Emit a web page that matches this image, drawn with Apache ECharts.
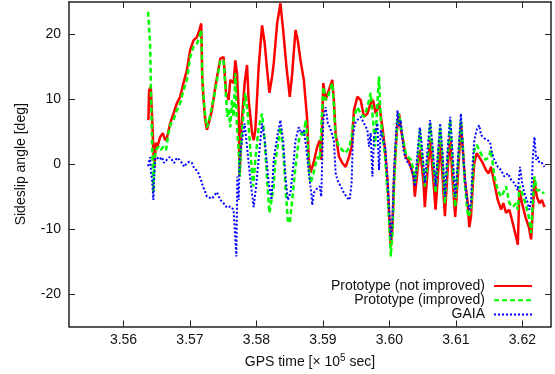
<!DOCTYPE html>
<html>
<head>
<meta charset="utf-8">
<script src="https://cdn.jsdelivr.net/npm/echarts@6/dist/echarts.min.js"></script>
<style>html,body{margin:0;padding:0;background:#fff;}#c{width:555px;height:374px;}</style>
</head>
<body>
<div id="c"></div>
<script>
// GPS time [x 10^5 sec] and sideslip angle [deg]
var redT = [3.56374,3.56385,3.56410,3.56430,3.56449,3.56465,3.56486,3.56510,3.56551,3.56591,3.56626,3.56656,3.56701,3.56751,3.56802,3.56852,3.56902,3.56953,3.57003,3.57053,3.57104,3.57143,3.57169,3.57184,3.57204,3.57229,3.57255,3.57279,3.57330,3.57380,3.57456,3.57505,3.57542,3.57581,3.57606,3.57656,3.57682,3.57707,3.57732,3.57747,3.57772,3.57822,3.57858,3.57882,3.57934,3.57958,3.57983,3.58033,3.58084,3.58124,3.58160,3.58195,3.58235,3.58259,3.58311,3.58360,3.58401,3.58451,3.58501,3.58537,3.58587,3.58621,3.58662,3.58712,3.58738,3.58763,3.58787,3.58813,3.58858,3.58914,3.58953,3.58974,3.59005,3.59039,3.59074,3.59140,3.59164,3.59190,3.59240,3.59291,3.59341,3.59391,3.59431,3.59466,3.59517,3.59567,3.59617,3.59668,3.59718,3.59753,3.59793,3.59843,3.59894,3.59934,3.59970,3.59994,3.60020,3.60045,3.60069,3.60095,3.60121,3.60145,3.60170,3.60211,3.60246,3.60281,3.60321,3.60362,3.60382,3.60422,3.60457,3.60483,3.60513,3.60532,3.60563,3.60612,3.60649,3.60694,3.60724,3.60763,3.60799,3.60834,3.60875,3.60914,3.60950,3.60989,3.61026,3.61075,3.61101,3.61136,3.61176,3.61201,3.61226,3.61252,3.61276,3.61312,3.61351,3.61403,3.61452,3.61493,3.61528,3.61578,3.61629,3.61679,3.61713,3.61754,3.61804,3.61855,3.61905,3.61931,3.61955,3.61995,3.62045,3.62097,3.62131,3.62157,3.62181,3.62217,3.62256,3.62293,3.62332];
var redY = [6.8,11.4,11.9,7.3,2.2,-0.4,3.3,2.7,4.2,4.8,3.7,4.2,6.3,7.8,9.4,10.4,12.5,14.5,17.6,19.1,19.6,20.7,21.7,13.5,9.9,6.8,5.3,5.3,8.3,11.9,16.3,16.5,11.0,9.9,13.0,12.5,16.0,14.0,8.3,-1.9,5.7,12.5,15.3,9.9,4.8,3.7,5.3,15.0,21.4,18.6,14.5,11.0,13.5,15.5,21.7,24.8,20.7,15.0,10.4,14.0,20.7,19.1,16.0,13.0,9.9,6.8,0.7,-1.3,0.2,2.7,3.7,0.7,12.5,9.9,11.0,13.0,9.9,4.8,1.2,0.2,-0.4,1.1,2.7,8.3,10.4,9.9,7.3,7.8,9.4,9.9,7.8,9.4,5.7,2.2,-2.4,-7.5,-12.7,-9.7,-2.4,2.7,6.3,7.8,5.5,3.3,1.1,0.7,-0.4,-1.9,-5.0,-0.9,2.2,0.2,-2.9,-6.6,-2.4,3.7,-0.9,-7.0,-2.4,3.4,-1.9,-8.0,-0.9,4.2,-2.4,-8.1,-2.4,6.3,2.7,-2.4,-6.0,-9.7,-8.1,-3.4,0.2,1.7,1.1,0.2,-0.9,-1.4,-0.4,-2.9,-5.5,-7.0,-6.0,-7.5,-7.0,-9.1,-11.2,-12.4,-4.0,-6.0,-8.1,-9.7,-11.6,-7.0,-2.4,-5.0,-6.0,-5.5,-6.6];

var greenT = [3.56370,3.56389,3.56400,3.56415,3.56430,3.56449,3.56465,3.56490,3.56525,3.56561,3.56600,3.56641,3.56676,3.56712,3.56751,3.56802,3.56852,3.56902,3.56953,3.57003,3.57053,3.57104,3.57143,3.57169,3.57184,3.57204,3.57229,3.57255,3.57279,3.57330,3.57380,3.57456,3.57505,3.57542,3.57561,3.57581,3.57606,3.57632,3.57656,3.57682,3.57707,3.57732,3.57747,3.57772,3.57807,3.57833,3.57873,3.57908,3.57949,3.57983,3.58033,3.58084,3.58124,3.58160,3.58195,3.58235,3.58259,3.58285,3.58311,3.58360,3.58401,3.58436,3.58471,3.58501,3.58537,3.58587,3.58636,3.58673,3.58712,3.58738,3.58763,3.58787,3.58813,3.58858,3.58914,3.58953,3.59005,3.59039,3.59074,3.59140,3.59164,3.59190,3.59240,3.59291,3.59341,3.59391,3.59431,3.59466,3.59517,3.59567,3.59617,3.59668,3.59718,3.59753,3.59783,3.59819,3.59843,3.59869,3.59894,3.59934,3.59970,3.59994,3.60020,3.60045,3.60069,3.60095,3.60121,3.60145,3.60170,3.60211,3.60246,3.60281,3.60321,3.60362,3.60382,3.60422,3.60457,3.60483,3.60513,3.60532,3.60563,3.60612,3.60649,3.60694,3.60724,3.60763,3.60799,3.60834,3.60875,3.60914,3.60950,3.60989,3.61026,3.61075,3.61101,3.61136,3.61176,3.61192,3.61226,3.61252,3.61276,3.61312,3.61351,3.61403,3.61452,3.61493,3.61528,3.61578,3.61629,3.61679,3.61713,3.61754,3.61804,3.61855,3.61905,3.61931,3.61955,3.61995,3.62045,3.62097,3.62131,3.62157,3.62181,3.62217,3.62256,3.62293,3.62332];
var greenY = [23.5,20.2,18.6,9.9,3.3,-4.4,0.7,2.2,2.7,2.2,2.7,2.2,4.8,6.3,6.8,8.3,9.4,11.4,13.0,16.5,18.1,18.6,19.6,20.7,13.5,10.4,7.3,5.7,6.4,8.9,11.4,16.0,16.0,10.4,7.3,8.4,5.7,9.9,7.3,14.0,5.7,2.2,-1.9,3.7,8.3,11.0,7.3,2.2,-3.4,0.7,5.7,7.8,3.7,-2.4,-7.5,-5.0,-3.4,0.7,2.2,5.7,2.2,-3.4,-8.6,-9.1,-5.5,-0.4,3.7,4.8,4.2,6.8,4.8,-0.4,-2.9,-1.4,1.1,0.7,11.9,9.9,10.4,12.5,8.8,4.2,2.7,2.2,1.7,2.5,4.2,7.3,8.8,7.8,7.3,8.8,11.0,6.8,2.7,9.4,13.5,6.8,4.8,1.1,-4.0,-8.6,-14.2,-10.6,-3.4,2.2,6.8,7.8,6.0,3.5,1.7,1.1,0.7,-0.9,-2.9,0.2,5.3,2.2,-0.9,-3.4,-0.9,6.3,1.7,-4.4,0.2,5.7,0.7,-6.0,1.1,6.8,0.2,-6.6,-0.9,6.8,3.4,-3.4,-7.5,-8.1,-7.0,-2.4,2.2,3.0,2.2,1.1,0.7,1.1,2.2,-1.9,-4.0,-5.0,-4.4,-3.4,-6.0,-6.6,-6.0,-7.0,-3.4,-4.4,-6.0,-8.1,-10.6,-5.5,-1.9,-4.0,-4.0,-4.4,-4.4];

var blueT = [3.56370,3.56385,3.56400,3.56415,3.56430,3.56449,3.56460,3.56475,3.56501,3.56540,3.56576,3.56611,3.56652,3.56691,3.56727,3.56762,3.56802,3.56842,3.56878,3.56913,3.56953,3.56992,3.57029,3.57053,3.57094,3.57128,3.57164,3.57195,3.57229,3.57255,3.57279,3.57330,3.57365,3.57406,3.57456,3.57505,3.57557,3.57606,3.57656,3.57677,3.57697,3.57712,3.57732,3.57747,3.57783,3.57822,3.57858,3.57908,3.57958,3.57994,3.58059,3.58084,3.58124,3.58184,3.58225,3.58259,3.58311,3.58360,3.58401,3.58436,3.58471,3.58511,3.58552,3.58587,3.58636,3.58673,3.58712,3.58753,3.58787,3.58824,3.58839,3.58863,3.58914,3.58953,3.58974,3.59005,3.59039,3.59074,3.59104,3.59164,3.59190,3.59216,3.59240,3.59266,3.59315,3.59367,3.59401,3.59431,3.59451,3.59481,3.59517,3.59567,3.59617,3.59668,3.59692,3.59718,3.59744,3.59768,3.59793,3.59819,3.59843,3.59869,3.59894,3.59934,3.59970,3.59994,3.60020,3.60045,3.60069,3.60095,3.60121,3.60145,3.60170,3.60211,3.60246,3.60281,3.60321,3.60362,3.60382,3.60422,3.60457,3.60483,3.60513,3.60532,3.60563,3.60612,3.60649,3.60694,3.60724,3.60763,3.60799,3.60834,3.60875,3.60914,3.60950,3.60989,3.61026,3.61075,3.61101,3.61136,3.61176,3.61201,3.61226,3.61252,3.61276,3.61312,3.61351,3.61377,3.61427,3.61478,3.61513,3.61543,3.61578,3.61629,3.61679,3.61728,3.61780,3.61830,3.61879,3.61931,3.61965,3.61995,3.62030,3.62066,3.62106,3.62131,3.62157,3.62181,3.62207,3.62232,3.62256,3.62293,3.62332];
var blueY = [-0.3,-0.4,1.1,-1.4,-2.4,-5.5,-2.4,0.7,1.1,0.7,1.1,0.2,0.7,1.1,0.7,0.2,1.0,0.7,0.2,-0.4,0.2,0.4,0.2,-0.4,-0.9,-1.4,-2.4,-3.4,-4.3,-5.0,-5.2,-5.3,-4.8,-4.3,-5.5,-6.0,-6.7,-6.5,-7.0,-10.6,-14.2,-1.9,-5.5,0.7,3.7,6.3,2.7,-2.4,-6.6,-3.4,3.7,6.3,3.7,-2.9,-5.5,0.7,4.2,6.8,3.7,-1.9,-5.5,-4.4,-0.4,3.7,5.7,4.8,5.3,2.2,-1.3,-4.4,-6.3,-4.4,-3.7,-3.4,-5.0,6.8,8.8,6.3,5.7,3.7,-1.3,-2.4,-2.7,-3.4,-4.4,-5.2,-5.5,-2.9,4.2,6.3,6.8,7.3,6.3,5.3,2.7,4.8,-1.9,4.2,5.3,6.3,-0.9,5.3,4.2,2.7,-2.4,-6.6,-11.6,-8.6,-0.9,4.2,8.3,5.7,6.8,2.2,0.7,0.2,-0.4,-1.9,-3.4,1.7,5.7,3.4,-0.4,-2.9,1.1,6.8,2.7,-3.4,1.1,6.3,1.7,-5.0,2.2,7.3,1.7,-5.0,0.2,7.8,2.7,-2.4,-6.0,-7.0,-6.0,0.2,3.7,5.3,6.0,4.5,4.0,3.7,3.4,1.7,0.7,-0.4,-0.9,-1.9,-1.4,-2.4,-2.9,-4.0,-0.4,-2.9,-4.4,-5.5,-7.0,-5.5,1.1,4.2,0.7,1.1,0.2,0.2,-0.4];

var xTicks = [3.56, 3.57, 3.58, 3.59, 3.60, 3.61, 3.62];
var yTicks = [-20, -10, 0, 10, 20];
var seriesNames = ['Prototype (not improved)', 'Prototype (improved)', 'GAIA'];

function zip(t, y) { return t.map(function (v, i) { return [v, y[i]]; }); }

var FONT = 'Liberation Sans';
var frame = { show: true, onZero: false, lineStyle: { color: '#222', width: 1.5 } };
var tick = function (vals) { return { show: true, inside: true, length: 6, customValues: vals, lineStyle: { color: '#222', width: 1 } }; };
var chart = echarts.init(document.getElementById('c'), null, { renderer: 'canvas' });
chart.setOption({
  animation: false,
  backgroundColor: '#fff',
  textStyle: { fontFamily: FONT },
  grid: { left: 69, right: 4, top: 2, bottom: 47, containLabel: false },
  legend: {
    data: seriesNames,
    orient: 'vertical',
    right: 22,
    top: 279,
    align: 'right',
    padding: 0,
    itemWidth: 38,
    itemHeight: 14,
    itemGap: 0.3,
    itemStyle: { opacity: 0 },
    textStyle: { fontFamily: FONT, fontSize: 14, color: '#111', padding: [0, 4, 0, 0] }
  },
  xAxis: [{
    type: 'value', position: 'bottom', min: 3.5518, max: 3.6243,
    axisLine: frame,
    axisTick: tick(xTicks),
    axisLabel: { customValues: xTicks, margin: 7, color: '#111', fontSize: 14, fontFamily: FONT,
      formatter: function (v) { return v.toFixed(2); } },
    splitLine: { show: false },
    name: 'GPS time [\u00d7 10{sup|5} sec]',
    nameLocation: 'middle', nameGap: 27,
    nameTextStyle: { fontSize: 14, fontFamily: FONT, color: '#111',
      rich: { sup: { fontSize: 10, verticalAlign: 'top', padding: [0, 0, 7, 0], fontFamily: FONT, color: '#111' } } }
  }, {
    type: 'value', position: 'top', min: 3.5518, max: 3.6243,
    axisLine: frame,
    axisTick: tick(xTicks),
    axisLabel: { show: false },
    splitLine: { show: false }
  }],
  yAxis: [{
    type: 'value', position: 'left', min: -25, max: 25,
    axisLine: frame,
    axisTick: tick(yTicks),
    axisLabel: { customValues: yTicks, margin: 8, color: '#111', fontSize: 14, fontFamily: FONT },
    splitLine: { show: false },
    name: 'Sideslip angle [deg]',
    nameLocation: 'middle', nameGap: 41,
    nameTextStyle: { fontSize: 14, fontFamily: FONT, color: '#111' }
  }, {
    type: 'value', position: 'right', min: -25, max: 25,
    axisLine: frame,
    axisTick: tick(yTicks),
    axisLabel: { show: false },
    splitLine: { show: false }
  }],
  series: [{
    name: seriesNames[0], type: 'line', data: zip(redT, redY),
    showSymbol: false, symbol: 'none', color: '#ff0000',
    lineStyle: { color: '#ff0000', width: 2.5, type: 'solid' }
  }, {
    name: seriesNames[1], type: 'line', data: zip(greenT, greenY),
    showSymbol: false, symbol: 'none', color: '#00ff00',
    lineStyle: { color: '#00ff00', width: 2.5, type: [5, 3] }
  }, {
    name: seriesNames[2], type: 'line', data: zip(blueT, blueY),
    showSymbol: false, symbol: 'none', color: '#0000ff',
    lineStyle: { color: '#0000ff', width: 2, type: [2, 2] }
  }]
});
</script>
</body>
</html>
